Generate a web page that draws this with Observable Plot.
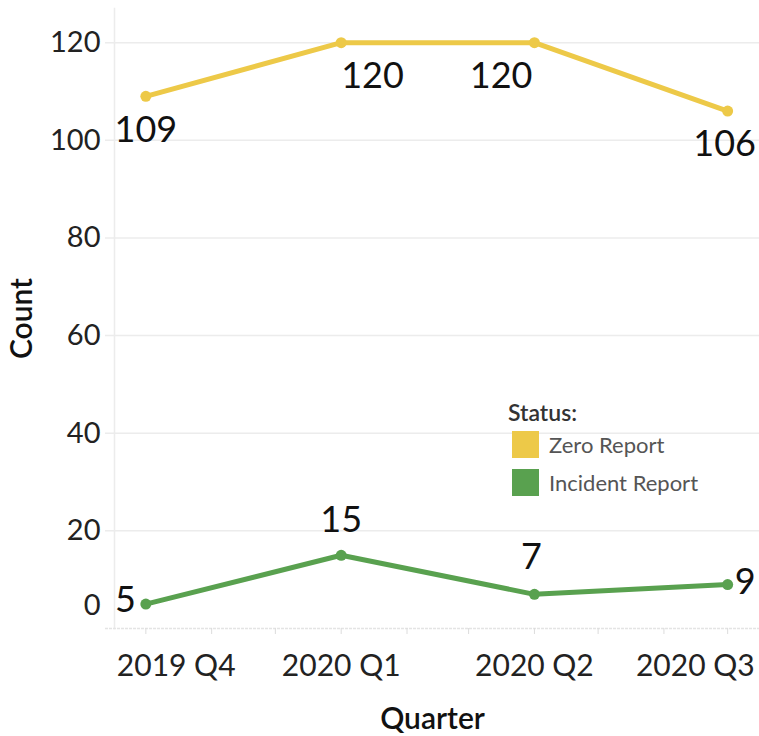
<!DOCTYPE html>
<html>
<head>
<meta charset="utf-8">
<script src="https://cdn.jsdelivr.net/npm/d3@7"></script>
<script src="https://cdn.jsdelivr.net/npm/@observablehq/plot@0.6"></script>
<style>
  body { margin: 0; background: #fff; font-family: Lato, "Open Sans", sans-serif; }
  #wrap { position: relative; width: 759px; height: 736px; }
  #legend { position: absolute; left: 508px; top: 400px; color: #555; }
  #legend .title { font-size: 23px; font-weight: 600; color: #333; line-height: 25px; height: 25px; }
  #legend .item { display: flex; align-items: center; height: 38px; font-size: 22px; }
  #legend .sw { width: 27px; height: 27px; margin-left: 4px; margin-right: 10px; }
</style>
</head>
<body>
<div id="wrap">
  <div id="chart"></div>
  <div id="legend"></div>
</div>
<script>
// ---- data ----
const quarters = ["2019 Q4", "2020 Q1", "2020 Q2", "2020 Q3"];
const quarterStarts = ["2019-10-01", "2020-01-01", "2020-04-01", "2020-07-01"];
const zeroReport = [109, 120, 120, 106];
const incidentReport = [5, 15, 7, 9];
const statuses = ["Zero Report", "Incident Report"];
const colors = ["#EDC948", "#59A14F"];
const yTicks = [0, 20, 40, 60, 80, 100, 120];

const data = [];
quarterStarts.forEach((d, i) => {
  data.push({date: new Date(d), q: quarters[i], status: statuses[0], value: zeroReport[i], i});
  data.push({date: new Date(d), q: quarters[i], status: statuses[1], value: incidentReport[i], i});
});

// label placement per point (styling)
const place = {
  "Zero Report": [
    {anchor: "middle", dx: 0, dy: 34},
    {anchor: "start", dx: 0, dy: 34},
    {anchor: "end", dx: -2, dy: 34},
    {anchor: "middle", dx: -3, dy: 33}
  ],
  "Incident Report": [
    {anchor: "end", dx: -10, dy: -4},
    {anchor: "middle", dx: 0, dy: -35},
    {anchor: "middle", dx: -3, dy: -37},
    {anchor: "start", dx: 7, dy: -2}
  ]
};

const labelMarks = [];
for (const s of statuses) {
  place[s].forEach((p, i) => {
    labelMarks.push(Plot.text(data.filter(d => d.status === s && d.i === i), {
      x: "date", y: "value", text: d => String(d.value),
      textAnchor: p.anchor, dx: p.dx, dy: p.dy,
      fontSize: 36, fill: "#111"
    }));
  });
}

const qDates = quarterStarts.map(d => new Date(d));
const monthTicks = d3.utcMonth.range(new Date("2019-10-01"), new Date("2020-07-02"));
const fmtQ = d => quarters[qDates.findIndex(q => +q === +d)];
const xLabelOpts = {tickSize: 0, tickPadding: 26, tickFormat: fmtQ, fontSize: 30, fill: "#222", label: null};

const chart = Plot.plot({
  width: 759,
  height: 736,
  marginLeft: 105,
  marginRight: 0,
  marginTop: 8,
  marginBottom: 108,
  style: {fontFamily: "Lato, 'Open Sans', sans-serif", background: "#fff"},
  x: {type: "utc", domain: [new Date("2019-09-12"), new Date("2020-07-16")]},
  y: {domain: [0, 127]},
  color: {domain: statuses, range: colors},
  marks: [
    Plot.gridY(yTicks.filter(t => t > 0), {stroke: "#ececec", strokeOpacity: 1, strokeWidth: 1.5}),
    Plot.frame({anchor: "left", dx: 9, stroke: "#ececec", strokeWidth: 1.5}),
    Plot.ruleY([0], {stroke: "#e4e4e4", strokeWidth: 1.5, strokeDasharray: "3,1"}),
    Plot.axisX({ticks: monthTicks, tickSize: 6, tickFormat: () => "", stroke: "#dcdcdc", strokeOpacity: 1,
      label: "Quarter", labelAnchor: "center", labelOffset: 100, labelArrow: "none"}),
    Plot.axisX({...xLabelOpts, ticks: qDates.slice(0, 1), textAnchor: "start", dx: -29}),
    Plot.axisX({...xLabelOpts, ticks: qDates.slice(1, 3)}),
    Plot.axisX({...xLabelOpts, ticks: qDates.slice(3), textAnchor: "end", dx: 27}),
    Plot.axisY({ticks: yTicks.filter(t => t > 0), tickSize: 0, tickPadding: 5, fontSize: 29, fill: "#222",
      label: "Count", labelAnchor: "center", labelOffset: 95, labelArrow: "none"}),
    Plot.axisY({ticks: [0], tickSize: 0, tickPadding: 5, fontSize: 29, fill: "#222", dy: -23, label: null}),
    Plot.line(data, {x: "date", y: "value", stroke: "status", strokeWidth: 5}),
    Plot.dot(data, {x: "date", y: "value", fill: "status", r: 5.5}),
    ...labelMarks
  ]
});

// style axis titles
chart.querySelectorAll("g[aria-label='x-axis label'] text, g[aria-label='y-axis label'] text").forEach(t => {
  t.setAttribute("font-size", "30");
  t.setAttribute("font-weight", "600");
  t.setAttribute("fill", "#111");
});
document.getElementById("chart").appendChild(chart);

// legend
const leg = document.getElementById("legend");
leg.innerHTML = `<div class="title">Status:</div>` +
  statuses.map((s, i) => `<div class="item"><div class="sw" style="background:${colors[i]}"></div>${s}</div>`).join("");
</script>
</body>
</html>
